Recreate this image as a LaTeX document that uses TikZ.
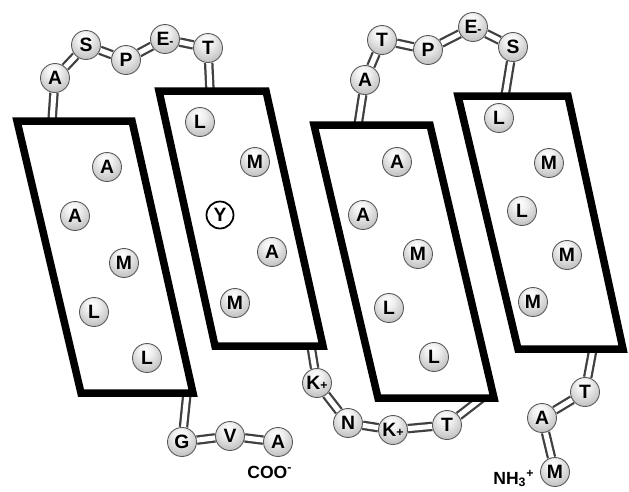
\documentclass[tikz,border=0pt]{standalone}
\usepackage{fontspec}
\setmainfont{Liberation Sans}
\usetikzlibrary{backgrounds}
\pgfdeclareradialshading{lightball}{\pgfpoint{-4bp}{14bp}}{color(0bp)=(white); color(12bp)=(black!6); color(38bp)=(black!30); color(56bp)=(black!55); color(70bp)=(black!60)}
\tikzset{
	helix/.style={line width=0.15cm, fill=white, line join=miter},
	res/.style={circle, draw=black!65, line width=0.5pt, shading=lightball, minimum size=0.58cm, inner sep=0pt, font=\fontsize{11}{11}\selectfont\bfseries},
	yres/.style={circle, draw=black, line width=1pt, fill=white, minimum size=0.54cm, inner sep=0pt, font=\fontsize{11}{11}\selectfont\bfseries},
	link/.style={draw=black!75, line width=0.045cm, double=white, double distance=0.1cm},
	term/.style={inner sep=0pt, anchor=base west, font=\fontsize{10}{10}\selectfont\bfseries}
}

\begin{document}
\begin{tikzpicture}[x=0.02cm, y=-0.02cm]
		%%%%% START %%%%%
		\useasboundingbox (0, 0) rectangle (629, 491);
		
		% helices
		\draw[helix] (17, 121) -- (132, 121) -- (193, 393) -- (81, 393) -- cycle;
		\draw[helix] (159, 91) -- (266, 91) -- (323, 346) -- (215, 346) -- cycle;
		\draw[helix] (314, 125) -- (430, 125) -- (494, 398) -- (378, 398) -- cycle;
		\draw[helix] (458, 96) -- (568, 96) -- (623, 349) -- (518, 349) -- cycle;
		
		\coordinate (h1top) at (52, 121);
		\coordinate (h2top) at (210, 91);
		\coordinate (h3top) at (358, 125);
		\coordinate (h4top) at (505, 96);
		\coordinate (h1bot) at (187, 393);
		\coordinate (h2bot) at (311, 346);
		\coordinate (h3bot) at (482, 398);
		\coordinate (h4bot) at (593, 349);
		
		% helix 1
		\node[res] (h1a) at (107, 167) {A};
		\node[res] (h1b) at (75, 216) {A};
		\node[res] (h1c) at (124, 263) {M};
		\node[res] (h1d) at (94, 312) {L};
		\node[res] (h1e) at (147, 358) {L};
		
		% helix 2
		\node[res] (h2a) at (200, 122) {L};
		\node[res] (h2b) at (255, 162) {M};
		\node[yres] (h2c) at (220, 215) {Y};
		\node[res] (h2d) at (272, 252) {A};
		\node[res] (h2e) at (235, 303) {M};
		
		% helix 3
		\node[res] (h3a) at (397, 162) {A};
		\node[res] (h3b) at (363, 215) {A};
		\node[res] (h3c) at (418, 254) {M};
		\node[res] (h3d) at (389, 308) {L};
		\node[res] (h3e) at (434, 357) {L};
		
		% helix 4
		\node[res] (h4a) at (499, 118) {L};
		\node[res] (h4b) at (549, 163) {M};
		\node[res] (h4c) at (522, 211) {L};
		\node[res] (h4d) at (567, 255) {M};
		\node[res] (h4e) at (533, 302) {M};
		
		% loops
		\node[res] (la1) at (55, 78) {A};
		\node[res] (la2) at (86, 45) {S};
		\node[res] (la3) at (126, 60) {P};
		\node[res] (la4) at (165, 39) {E{\fontsize{7}{7}\selectfont -}};
		\node[res] (la5) at (208, 48) {T};
		
		\node[res] (lb1) at (365, 80) {A};
		\node[res] (lb2) at (382, 40) {T};
		\node[res] (lb3) at (428, 50) {P};
		\node[res] (lb4) at (473, 27) {E{\fontsize{7}{7}\selectfont -}};
		\node[res] (lb5) at (513, 47) {S};
		
		\node[res] (lc1) at (182, 442) {G};
		\node[res] (lc2) at (230, 436) {V};
		\node[res] (lc3) at (278, 442) {A};
		
		\node[res] (ld1) at (317, 383) {K{\fontsize{7}{7}\selectfont +}};
		\node[res] (ld2) at (348, 423) {N};
		\node[res] (ld3) at (393, 430) {K{\fontsize{7}{7}\selectfont +}};
		\node[res] (ld4) at (447, 425) {T};
		
		\node[res] (le1) at (585, 392) {T};
		\node[res] (le2) at (542, 418) {A};
		\node[res] (le3) at (555, 472) {M};
		
		\node[term] (cterm) at (247, 478) {COO\textsuperscript{-}};
		\node[term] (nterm) at (493, 484) {NH\textsubscript{3}\textsuperscript{+}};
		
		% links
		\begin{scope}[on background layer]
			\draw[link] (h1top) -- (la1) -- (la2) -- (la3) -- (la4) -- (la5) -- (h2top);
			\draw[link] (h3top) -- (lb1) -- (lb2) -- (lb3) -- (lb4) -- (lb5) -- (h4top);
			\draw[link] (h1bot) -- (lc1) -- (lc2) -- (lc3);
			\draw[link] (h2bot) -- (ld1) -- (ld2) -- (ld3) -- (ld4) -- (h3bot);
			\draw[link] (h4bot) -- (le1) -- (le2) -- (le3);
		\end{scope}
		
		%%%%% END %%%%%
\end{tikzpicture}
\end{document}
